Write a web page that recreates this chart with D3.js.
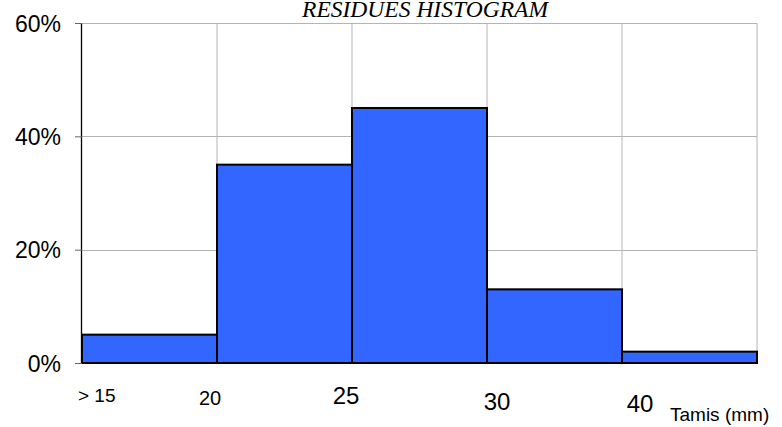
<!DOCTYPE html>
<html><head><meta charset="utf-8">
<script src="https://cdn.jsdelivr.net/npm/d3@7"></script>
<style>html,body{margin:0;padding:0;background:#fff;}svg{display:block;}</style>
</head><body>
<script>
const categories = ["> 15", "20", "25", "30", "40"];
const values = [5, 35, 45, 13, 2];
const yTicks = [0, 20, 40, 60];
const title = "RESIDUES HISTOGRAM";
const axisTitle = "Tamis (mm)";

const W = 782, H = 427;
const M = {left: 82, right: 757, top: 23, bottom: 363};
const svg = d3.select("body").append("svg").attr("width", W).attr("height", H);

const x = d3.scaleBand().domain(categories).range([M.left, M.right]).padding(0);
const y = d3.scaleLinear().domain([0, 60]).range([M.bottom, M.top]);

// horizontal gridlines
svg.append("g").selectAll("line").data(yTicks.filter(d => d > 0)).join("line")
  .attr("x1", M.left).attr("x2", M.right)
  .attr("y1", d => Math.round(y(d)) + 0.5).attr("y2", d => Math.round(y(d)) + 0.5)
  .attr("stroke", "#b4b4b4").attr("stroke-width", 1);
// vertical gridlines
svg.append("g").selectAll("line").data(categories.slice(1).concat(["end"])).join("line")
  .attr("x1", d => d === "end" ? M.right : x(d)).attr("x2", d => d === "end" ? M.right : x(d))
  .attr("y1", M.top).attr("y2", M.bottom)
  .attr("stroke", "#b4b4b4").attr("stroke-width", 1);

// bars
svg.append("g").selectAll("rect").data(values).join("rect")
  .attr("x", (d, i) => x(categories[i]))
  .attr("y", d => y(d))
  .attr("width", x.bandwidth())
  .attr("height", d => y(0) - y(d))
  .attr("fill", "#3366ff").attr("stroke", "#000").attr("stroke-width", 2);

// y axis
const yAxis = d3.axisLeft(y).tickValues(yTicks).tickSize(7).tickPadding(14)
  .tickFormat(d => d + "%");
const ga = svg.append("g").attr("transform", `translate(${M.left},0)`).call(yAxis);
ga.select(".domain").attr("stroke", "#000").attr("stroke-width", 1.3).attr("d", `M-0.5,${M.top}V${M.bottom}`);
ga.selectAll(".tick line").attr("stroke", "#666");
ga.selectAll(".tick text").attr("font-family", "Liberation Sans, Arial, sans-serif")
  .attr("font-size", 23).attr("fill", "#000").attr("dy", "0.36em");

// x labels (positions relative to band start)
const lblDx = [-4, -7, -6, 10, 18];
const lblY = [402, 405, 404, 410, 412];
const lblSize = [19, 20, 24, 24, 24];
const lblAnchor = ["start", "middle", "middle", "middle", "middle"];
svg.append("g").selectAll("text").data(categories).join("text")
  .attr("x", (d, i) => x(d) + lblDx[i])
  .attr("y", (d, i) => lblY[i])
  .attr("text-anchor", (d, i) => lblAnchor[i])
  .attr("font-family", "Liberation Sans, Arial, sans-serif")
  .attr("font-size", (d, i) => lblSize[i])
  .text(d => d);

svg.append("text").attr("x", 670).attr("y", 421)
  .attr("font-family", "Liberation Sans, Arial, sans-serif").attr("font-size", 19)
  .text(axisTitle);

svg.append("text").attr("x", 425).attr("y", 17).attr("text-anchor", "middle")
  .attr("font-family", "Liberation Serif, Times New Roman, serif").attr("font-style", "italic")
  .attr("font-size", 23).attr("textLength", 246).attr("lengthAdjust", "spacingAndGlyphs")
  .text(title);
</script>
</body></html>
